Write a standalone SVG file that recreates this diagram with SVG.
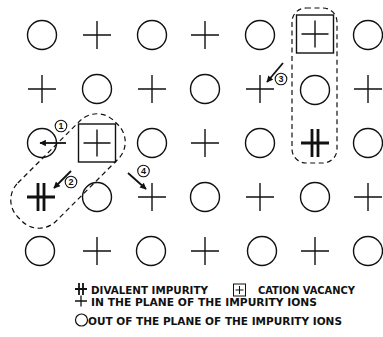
<svg xmlns="http://www.w3.org/2000/svg" width="383" height="337" viewBox="0 0 383 337">
<style>
.s{fill:none;stroke:#111;stroke-width:1.4}
.d{fill:none;stroke:#111;stroke-width:2.8}
.dash{fill:none;stroke:#111;stroke-width:1.2;stroke-dasharray:5 3.5}
.arr{fill:none;stroke:#111;stroke-width:1.8}
.num{font-family:"Liberation Sans",Arial,sans-serif;font-size:9px;font-weight:bold;fill:#111;text-anchor:middle}
.lg{font-family:"DejaVu Sans Condensed","Liberation Sans",Arial,sans-serif;font-size:10.5px;font-weight:bold;fill:#111}
</style>
<defs>
<g id="o"><circle class="s" r="14.5"/></g>
<g id="p"><path class="s" d="M-14 0H14M0-14V14"/></g>
<g id="v"><rect class="s" x="-18.5" y="-19" width="37" height="38"/><path class="s" d="M-13.5 0H13.5M0-13.5V13.5"/></g>
<g id="dv"><path class="d" d="M-14 0H14M-3-14V14M3-14V14"/></g>
<marker id="ah" viewBox="0 0 10 10" refX="9" refY="5" markerWidth="8" markerHeight="6.5" markerUnits="userSpaceOnUse" orient="auto"><path d="M0 0L10 5L0 10z" fill="#111"/></marker>
</defs>
<g id="row1">
<g id="n11"><use href="#o" x="42" y="35"/></g>
<g id="n12"><use href="#p" x="97" y="35"/></g>
<g id="n13"><use href="#o" x="152" y="35"/></g>
<g id="n14"><use href="#p" x="205" y="35"/></g>
<g id="n15"><use href="#o" x="260" y="35"/></g>
<g id="n16"><use href="#v" x="315" y="34"/></g>
<g id="n17"><use href="#o" x="368" y="35"/></g>
</g>
<g id="row2">
<g id="n21"><use href="#p" x="42" y="89"/></g>
<g id="n22"><use href="#o" x="97" y="89"/></g>
<g id="n23"><use href="#p" x="152" y="89"/></g>
<g id="n24"><use href="#o" x="205" y="89"/></g>
<g id="n25"><use href="#p" x="260" y="89"/></g>
<g id="n26"><use href="#o" x="315" y="90"/></g>
<g id="n27"><use href="#p" x="368" y="89"/></g>
</g>
<g id="row3">
<g id="n31"><use href="#o" x="42" y="143"/></g>
<g id="n32"><use href="#v" x="97" y="143"/></g>
<g id="n33"><use href="#o" x="152" y="143"/></g>
<g id="n34"><use href="#p" x="205" y="143"/></g>
<g id="n35"><use href="#o" x="260" y="143"/></g>
<g id="n36"><use href="#dv" x="315" y="143"/></g>
<g id="n37"><use href="#o" x="368" y="143"/></g>
</g>
<g id="row4">
<g id="n41"><use href="#dv" x="41" y="197"/></g>
<g id="n42"><use href="#o" x="97" y="197"/></g>
<g id="n43"><use href="#p" x="152" y="197"/></g>
<g id="n44"><use href="#o" x="205" y="197"/></g>
<g id="n45"><use href="#p" x="260" y="197"/></g>
<g id="n46"><use href="#o" x="315" y="197"/></g>
<g id="n47"><use href="#p" x="368" y="197"/></g>
</g>
<g id="row5">
<g id="n51"><use href="#o" x="40" y="251"/></g>
<g id="n52"><use href="#p" x="97" y="251"/></g>
<g id="n53"><use href="#o" x="151" y="251"/></g>
<g id="n54"><use href="#p" x="205" y="251"/></g>
<g id="n55"><use href="#o" x="262" y="251"/></g>
<g id="n56"><use href="#p" x="315" y="251"/></g>
<g id="n57"><use href="#o" x="368" y="251"/></g>
</g>
<g id="complexes">
<rect class="dash" x="-68" y="-27" width="136" height="54" rx="24" transform="translate(68 171) rotate(-45)"/>
<rect class="dash" x="292" y="8" width="45" height="155" rx="14"/>
</g>
<g id="connectors">
<line class="arr" x1="66" y1="143" x2="40" y2="143" marker-end="url(#ah)"/>
<line class="arr" x1="71" y1="171" x2="54" y2="188" marker-end="url(#ah)"/>
<line class="arr" x1="283" y1="63" x2="267" y2="82" marker-end="url(#ah)"/>
<line class="arr" x1="128" y1="173" x2="146" y2="189" marker-end="url(#ah)"/>
</g>
<g id="labels">
<circle class="s" cx="61" cy="126" r="5.8" style="stroke-width:1.1"/><text class="num" x="61" y="129.3">1</text>
<circle class="s" cx="71" cy="182" r="5.8" style="stroke-width:1.1"/><text class="num" x="71" y="185.3">2</text>
<circle class="s" cx="281" cy="79" r="5.8" style="stroke-width:1.1"/><text class="num" x="281" y="82.3">3</text>
<circle class="s" cx="143.5" cy="171" r="5.8" style="stroke-width:1.1"/><text class="num" x="143.5" y="174.3">4</text>
</g>
<g id="legend">
<path d="M75 289H87M79 283V295M83 283V295" fill="none" stroke="#111" stroke-width="1.8"/>
<text class="lg" x="91" y="294" textLength="117" lengthAdjust="spacingAndGlyphs">DIVALENT IMPURITY</text>
<rect x="233.5" y="284" width="12" height="12" fill="none" stroke="#111" stroke-width="1"/>
<path d="M235.5 290H243.5M239.5 286V294" fill="none" stroke="#111" stroke-width="1"/>
<text class="lg" x="258" y="294" textLength="97" lengthAdjust="spacingAndGlyphs">CATION VACANCY</text>
<path d="M75 301H87M81 295.5V306.5" fill="none" stroke="#111" stroke-width="1.3"/>
<text class="lg" x="91" y="305.5" textLength="226" lengthAdjust="spacingAndGlyphs">IN THE PLANE OF THE IMPURITY IONS</text>
<circle cx="81.5" cy="320" r="6" fill="none" stroke="#111" stroke-width="1.2"/>
<text class="lg" x="88" y="324.5" textLength="254" lengthAdjust="spacingAndGlyphs">OUT OF THE PLANE OF THE IMPURITY IONS</text>
</g>
</svg>
